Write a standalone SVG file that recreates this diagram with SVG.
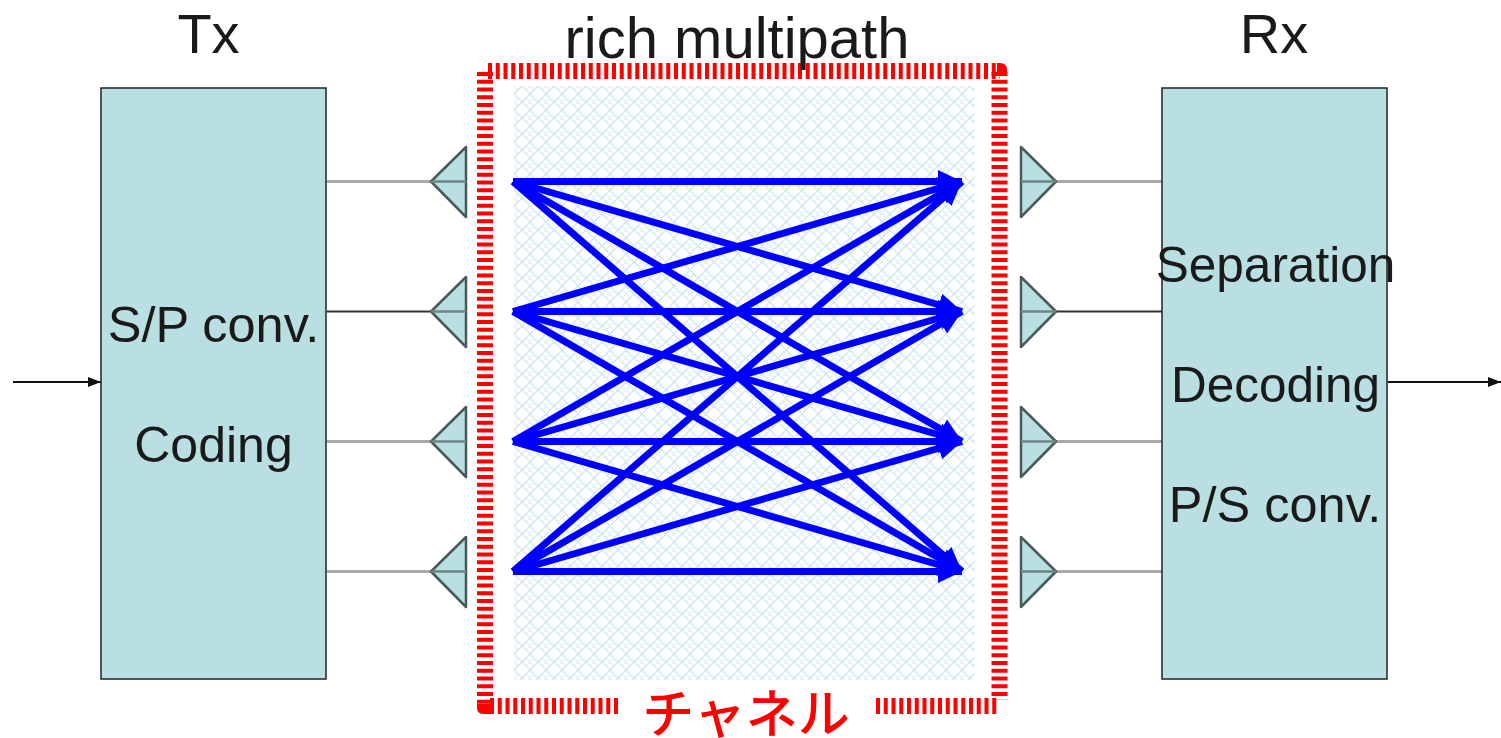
<svg xmlns="http://www.w3.org/2000/svg" width="1501" height="738" viewBox="0 0 1501 738">
<style>
.box{fill:#b9dfe2;stroke:#222;stroke-width:1.5}
.ant{fill:#b9dfe2;stroke:#4a5a5a;stroke-width:2.5;stroke-linejoin:round}
.mid{stroke:#6f8486;stroke-width:2.5}
.feed{stroke:#aaa;stroke-width:3;fill:none}
.feedk{stroke:#333;stroke-width:2;fill:none}
.path{stroke:#0000ff;stroke-width:7;fill:none;marker-end:url(#bh)}
.io{stroke:#111;stroke-width:2;fill:none;marker-end:url(#kh)}
.lab{font-family:"Liberation Sans",Arial,sans-serif;fill:#1a1a1a;text-anchor:middle}
.red{fill:none;stroke:#ff0000;stroke-width:16;stroke-dasharray:4 3.75}
</style>
<defs>
<marker id="bh" markerUnits="userSpaceOnUse" markerWidth="26" markerHeight="28" refX="24" refY="14" orient="auto"><path d="M0 2.500L24 14L0 25.500Z" fill="#0000ff"/></marker>
<marker id="kh" markerUnits="userSpaceOnUse" markerWidth="14" markerHeight="12" refX="13" refY="6" orient="auto"><path d="M0 1L13 6L0 11Z" fill="#111"/></marker>
<pattern id="hatch" patternUnits="userSpaceOnUse" x="514" y="86" width="16" height="16"><path d="M8 0L16 8L8 16L0 8Z" stroke="#d2e8ea" stroke-width="1.500" fill="none"/><path d="M0 0L4 4M16 0L12 4M0 16L4 12M16 16L12 12" stroke="#e2f1f2" stroke-width="1.500" fill="none"/></pattern>
</defs>
<rect id="background" width="1501" height="738" fill="#fff"/>
<rect id="channel-area" x="514" y="86" width="461" height="594" fill="url(#hatch)"/>
<g id="connectors">
<path class="io" d="M13 382H101"/>
<path class="io" d="M1388 382H1501"/>
<path class="feed" d="M327 181.500H432M1056 181.500H1162M327 441.500H432M1056 441.500H1162M327 571.500H432M1056 571.500H1162"/>
<path class="feedk" d="M327 311.500H432M1056 311.500H1162"/>
<g id="paths">
<path class="path" d="M513 181.500L962 181.500"/><path class="path" d="M513 181.500L962 311.500"/><path class="path" d="M513 181.500L962 441.500"/><path class="path" d="M513 181.500L962 571.500"/>
<path class="path" d="M513 311.500L962 181.500"/><path class="path" d="M513 311.500L962 311.500"/><path class="path" d="M513 311.500L962 441.500"/><path class="path" d="M513 311.500L962 571.500"/>
<path class="path" d="M513 441.500L962 181.500"/><path class="path" d="M513 441.500L962 311.500"/><path class="path" d="M513 441.500L962 441.500"/><path class="path" d="M513 441.500L962 571.500"/>
<path class="path" d="M513 571.500L962 181.500"/><path class="path" d="M513 571.500L962 311.500"/><path class="path" d="M513 571.500L962 441.500"/><path class="path" d="M513 571.500L962 571.500"/>
</g>
</g>
<g id="tx">
<rect class="box" x="101" y="88" width="225" height="591"/>
<text class="lab" x="213.500" y="342" font-size="50.500">S/P conv.</text>
<text class="lab" x="213.500" y="462" font-size="50">Coding</text>
</g>
<g id="rx">
<rect class="box" x="1162" y="88" width="225" height="591"/>
<text class="lab" x="1275.500" y="282" font-size="49.500">Separation</text>
<text class="lab" x="1275.500" y="402" font-size="49.500">Decoding</text>
<text class="lab" x="1275" y="522" font-size="50.500">P/S conv.</text>
</g>
<g id="tx-antennas">
<g id="tx-ant-1"><path class="ant" d="M466 147V217L431 181.500Z"/><path class="mid" d="M431 181.500H466"/></g>
<g id="tx-ant-2"><path class="ant" d="M466 277V347L431 311.500Z"/><path class="mid" d="M431 311.500H466"/></g>
<g id="tx-ant-3"><path class="ant" d="M466 407V477L431 441.500Z"/><path class="mid" d="M431 441.500H466"/></g>
<g id="tx-ant-4"><path class="ant" d="M466 537V607L431 571.500Z"/><path class="mid" d="M431 571.500H466"/></g>
</g>
<g id="rx-antennas">
<g id="rx-ant-1"><path class="ant" d="M1021 147V217L1056 181.500Z"/><path class="mid" d="M1021 181.500H1056"/></g>
<g id="rx-ant-2"><path class="ant" d="M1021 277V347L1056 311.500Z"/><path class="mid" d="M1021 311.500H1056"/></g>
<g id="rx-ant-3"><path class="ant" d="M1021 407V477L1056 441.500Z"/><path class="mid" d="M1021 441.500H1056"/></g>
<g id="rx-ant-4"><path class="ant" d="M1021 537V607L1056 571.500Z"/><path class="mid" d="M1021 571.500H1056"/></g>
</g>
<g id="channel-frame">
<path class="red" d="M488 71H1000"/>
<path class="red" d="M485 72V707"/>
<path class="red" d="M999.500 72V700"/>
<path class="red" d="M490 706H619"/>
<path class="red" d="M876 706H1000"/>
<path d="M997 63H1000Q1007 63 1007 70V74H997Z" fill="#ff0000"/>
<path d="M477 704V708Q477 714 484 714H491V704Z" fill="#ff0000"/>
</g>
<text class="lab" x="208.500" y="53" font-size="56">Tx</text>
<text class="lab" x="737" y="58" font-size="58">rich multipath</text>
<text class="lab" x="1274" y="53" font-size="56">Rx</text>
<text x="746" y="733" font-size="52" font-weight="500" fill="#ff0000" text-anchor="middle" font-family="'Noto Sans CJK JP',sans-serif">チャネル</text>
</svg>
